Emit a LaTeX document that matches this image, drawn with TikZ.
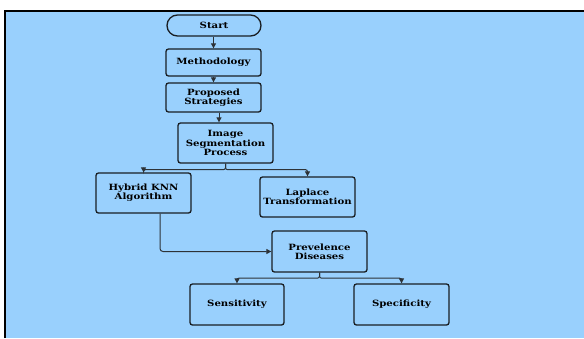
\documentclass[tikz,border=0pt]{standalone}
\usepackage{fontspec}
\setmainfont{DejaVu Serif}[FakeStretch=1.18]
\usetikzlibrary{arrows.meta,calc,shapes.misc}
\definecolor{bgblue}{RGB}{153,208,253}
\definecolor{edge}{RGB}{25,30,35}
\definecolor{lineg}{RGB}{45,50,55}
\tikzset{
  box/.style={draw=edge, line width=1.3pt, rounded corners=2.5pt, align=center,
    font=\fontsize{8.6}{9.2}\selectfont\bfseries, inner sep=1pt},
  arr/.style={draw=lineg, line width=1pt, -{Triangle[length=5pt,width=5pt]}},
}
\begin{document}
\begin{tikzpicture}[x=1pt,y=-1pt]
\useasboundingbox (0,0) rectangle (584,338);
\fill[bgblue] (5,11) rectangle (584,338);
\draw[black, line width=2pt] (5,338) -- (5,11) -- (584,11);

\node[box, rounded rectangle, rounded corners=0pt, minimum width=96pt, minimum height=21pt] (start) at (214,25.5) {Start};
\node[box, minimum width=95pt, minimum height=27pt] (meth) at (213.5,62.5) {Methodology};
\node[box, minimum width=95pt, minimum height=29pt] (prop) at (213.5,97.5) {Proposed\\Strategies};
\node[box, minimum width=95pt, minimum height=40pt] (img) at (225.5,143) {Image\\Segmentation\\Process};
\node[box, minimum width=95pt, minimum height=40pt] (hyb) at (143.5,193) {Hybrid KNN\\Algorithm};
\node[box, minimum width=95pt, minimum height=40pt] (lap) at (307.5,197) {Laplace\\Transformation};
\node[box, minimum width=95pt, minimum height=41pt] (prev) at (319.5,251.5) {Prevelence\\Diseases};
\node[box, minimum width=94pt, minimum height=41pt] (sens) at (237,304.5) {Sensitivity};
\node[box, minimum width=95pt, minimum height=41pt] (spec) at (401.5,304.5) {Specificity};

\draw[arr] (start.south -| meth.north) -- (meth.north);
\draw[arr] (meth) -- (prop);
\coordinate (p1) at ($(prop.south)+(5.5,0)$);
\draw[arr] (p1) -- (p1 |- img.north);
\draw[arr, rounded corners=2pt] (img.south) -- ++(0,6) -| (hyb.north);
\draw[arr, rounded corners=2pt] (img.south) -- ++(0,6) -| (lap.north);
\coordinate (h1) at ($(hyb.south)+(16.5,0)$);
\draw[arr, rounded corners=3pt] (h1) |- (prev.west);
\draw[arr, rounded corners=2pt] (prev.south) -- ++(0,5.5) -| (sens.north);
\draw[arr, rounded corners=2pt] (prev.south) -- ++(0,5.5) -| (spec.north);
\end{tikzpicture}
\end{document}
